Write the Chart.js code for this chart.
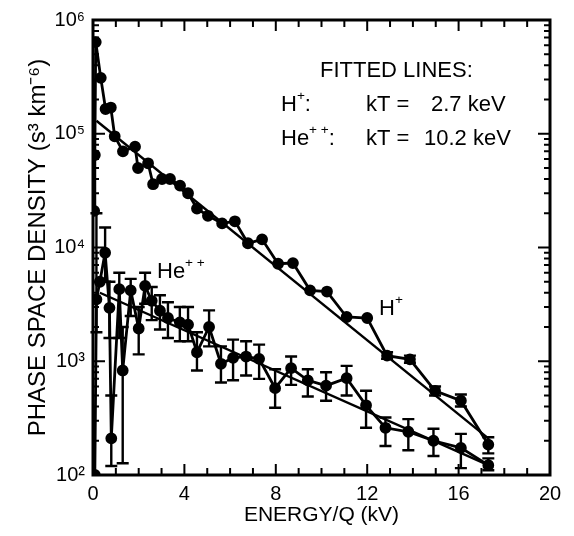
<!DOCTYPE html>
<html>
<head>
<meta charset="utf-8">
<script src="https://cdn.jsdelivr.net/npm/chart.js@4.4.1/dist/chart.umd.min.js"></script>
<style>
  html, body { margin: 0; background: #fff; }
  #wrap { width: 574px; height: 536px; }
</style>
</head>
<body>
<div id="wrap"><canvas id="chart" width="574" height="536"></canvas></div>
<script>
// --- data ---
// H+ measured points (energy/Q in kV, phase space density)
const hX = [0.05, 0.08, 0.12, 0.34, 0.55, 0.78, 0.95, 1.31, 1.84, 1.97, 2.41, 2.63, 3.02, 3.37, 3.81, 4.16, 4.55, 5.03, 5.65, 6.21, 6.78, 7.4, 8.1, 8.75, 9.5, 10.24, 11.1, 12.0, 12.87, 13.87, 14.97, 16.1, 17.3];
const hY = [2.1e4, 6.5e4, 6.4e5, 3.1e5, 1.65e5, 1.7e5, 9.5e4, 7.0e4, 7.7e4, 5.0e4, 5.5e4, 3.6e4, 4.0e4, 4.0e4, 3.5e4, 3.0e4, 2.2e4, 1.9e4, 1.63e4, 1.7e4, 1.09e4, 1.18e4, 7.2e3, 7.3e3, 4.2e3, 4.1e3, 2.45e3, 2.4e3, 1.12e3, 1.04e3, 5.5e2, 4.5e2, 1.85e2];
// H+ error bars (only the high energy channels show them)
const hBarX = [12.87, 13.87, 14.97, 16.1, 17.3];
const hBarLo = [1.05e3, 0.97e3, 5.0e2, 4.0e2, 1.55e2];
const hBarHi = [1.2e3, 1.12e3, 6.0e2, 5.1e2, 2.15e2];

// He++ measured points with error bars
const heX = [0.08, 0.15, 0.3, 0.53, 0.72, 0.8, 1.15, 1.3, 1.65, 2.0, 2.28, 2.57, 2.93, 3.28, 3.8, 4.16, 4.55, 5.08, 5.6, 6.13, 6.7, 7.27, 7.97, 8.67, 9.4, 10.2, 11.1, 11.95, 12.8, 13.8, 14.9, 16.1, 17.3];
const heY = [1.0e2, 3.5e3, 5.0e3, 9.0e3, 2.95e3, 2.1e2, 4.3e3, 8.3e2, 4.2e3, 1.94e3, 4.6e3, 3.4e3, 2.78e3, 2.4e3, 2.2e3, 2.1e3, 1.2e3, 2.0e3, 9.5e2, 1.07e3, 1.1e3, 1.05e3, 5.8e2, 8.7e2, 6.8e2, 6.1e2, 7.1e2, 4.1e2, 2.6e2, 2.4e2, 2.0e2, 1.73e2, 1.22e2];
const heLo = [null, 1.8e3, null, 5.0e3, 1.6e3, 1.2e2, 1.6e3, 1.27e2, 2.5e3, 1.15e3, 3.2e3, 2.3e3, 1.9e3, 1.6e3, 1.5e3, 1.5e3, 8.3e2, 1.35e3, 6.5e2, 6.8e2, 7.5e2, 7.0e2, 3.9e2, 6.2e2, 4.9e2, 4.5e2, 5.0e2, 2.6e2, 1.8e2, 1.65e2, 1.47e2, 1.15e2, 1.1e2];
const heHi = [null, 2.0e4, null, 1.5e4, 5.0e3, 5.0e2, 6.0e3, 2.0e3, 5.3e3, 3.0e3, 6.0e3, 4.5e3, 3.8e3, 3.3e3, 3.0e3, 3.0e3, 1.8e3, 2.8e3, 1.35e3, 1.55e3, 1.5e3, 1.4e3, 8.5e2, 1.1e3, 8.5e2, 8.0e2, 9.1e2, 5.5e2, 3.2e2, 3.1e2, 2.55e2, 2.3e2, 1.4e2];

// fitted lines (end points)
const fitHX = [0.15, 17.3];
const fitHY = [1.3e5, 2.1e2];
const fitHeX = [0.3, 17.3];
const fitHeY = [4.0e3, 1.22e2];

// axis ticks
const xTicks = [0, 4, 8, 12, 16, 20];
const yTicks = [1e2, 1e3, 1e4, 1e5, 1e6];

const FONT = "'Liberation Sans', Arial, Helvetica, sans-serif";
const SUP = { 2: '²', 3: '³', 4: '⁴', 5: '⁵', 6: '⁶' };

const pts = (xs, ys) => xs.map((x, i) => ({ x: x, y: ys[i] }));

// --- error bars ---
const errorBars = {
    id: 'errorBars',
    afterDatasetsDraw(chart) {
        const { ctx, scales: { x, y } } = chart;
        const draw = (xs, lo, hi, cap) => {
            ctx.save();
            ctx.strokeStyle = '#000';
            ctx.lineWidth = 2.4;
            xs.forEach((v, i) => {
                if (lo[i] == null) return;
                const px = x.getPixelForValue(v);
                const y1 = y.getPixelForValue(lo[i]);
                const y2 = y.getPixelForValue(hi[i]);
                ctx.beginPath();
                ctx.moveTo(px, y1); ctx.lineTo(px, y2);
                ctx.moveTo(px - cap, y1); ctx.lineTo(px + cap, y1);
                ctx.moveTo(px - cap, y2); ctx.lineTo(px + cap, y2);
                ctx.stroke();
            });
            ctx.restore();
        };
        draw(heX, heLo, heHi, 6);
        draw(hBarX, hBarLo, hBarHi, 6);
    }
};

// --- frame with inward ticks on all four sides ---
const frame = {
    id: 'frame',
    afterDraw(chart) {
        const { ctx, chartArea: a, scales: { x, y } } = chart;
        ctx.save();
        ctx.strokeStyle = '#000';
        ctx.lineWidth = 2;
        ctx.beginPath();
        for (let v = 1; v < 20; v++) {
            const px = x.getPixelForValue(v);
            const len = v % 4 === 0 ? 11 : 7;
            ctx.moveTo(px, a.bottom); ctx.lineTo(px, a.bottom - len);
            ctx.moveTo(px, a.top); ctx.lineTo(px, a.top + len);
        }
        for (let e = 2; e < 6; e++) {
            for (let m = 1; m < 10; m++) {
                const py = y.getPixelForValue(m * Math.pow(10, e));
                const len = m === 1 ? 12 : 6;
                ctx.moveTo(a.left, py); ctx.lineTo(a.left + len, py);
                ctx.moveTo(a.right, py); ctx.lineTo(a.right - len, py);
            }
        }
        ctx.stroke();
        ctx.lineWidth = 3;
        ctx.strokeRect(a.left, a.top, a.right - a.left, a.bottom - a.top);
        ctx.restore();
    }
};

// --- text labels (species names and fitted line temperatures) ---
function rich(ctx, x, y, parts, size) {
    let cx = x;
    parts.forEach(p => {
        const s = p.sup ? size * 0.62 : size;
        ctx.font = s + 'px ' + FONT;
        ctx.fillText(p.t, cx, p.sup ? y - size * 0.42 : y);
        cx += ctx.measureText(p.t).width;
    });
}
const labels = {
    id: 'labels',
    afterDraw(chart) {
        const ctx = chart.ctx;
        ctx.save();
        ctx.fillStyle = '#000';
        ctx.textBaseline = 'middle';
        ctx.textAlign = 'left';
        const fs = 22;
        rich(ctx, 320, 71, [{ t: 'FITTED LINES:' }], fs);
        rich(ctx, 281, 105, [{ t: 'H' }, { t: '+', sup: true }, { t: ':' }], fs);
        rich(ctx, 366, 105, [{ t: 'kT =' }], fs);
        rich(ctx, 431, 105, [{ t: '2.7 keV' }], fs);
        rich(ctx, 281, 139, [{ t: 'He' }, { t: '+ +', sup: true }, { t: ':' }], fs);
        rich(ctx, 366, 139, [{ t: 'kT =' }], fs);
        rich(ctx, 424, 139, [{ t: '10.2 keV' }], fs);
        rich(ctx, 157, 272, [{ t: 'He' }, { t: '+ +', sup: true }], fs);
        rich(ctx, 379, 309, [{ t: 'H' }, { t: '+', sup: true }], fs);
        ctx.restore();
    }
};

const line = (data, marker) => ({
    data: data,
    borderColor: '#000',
    backgroundColor: '#000',
    borderWidth: marker ? 2.8 : 2.4,
    pointRadius: marker ? 4.5 : 0,
    pointHoverRadius: 0,
    tension: 0
});

new Chart(document.getElementById('chart'), {
    type: 'line',
    data: {
        datasets: [
            line(pts(fitHX, fitHY), false),
            line(pts(fitHeX, fitHeY), false),
            line(pts(hX, hY), true),
            line(pts(heX, heY), true)
        ]
    },
    options: {
        responsive: false,
        animation: false,
        devicePixelRatio: 1,
        layout: { padding: { top: 18, right: 24, left: 0, bottom: 0 } },
        plugins: { legend: { display: false }, tooltip: { enabled: false } },
        scales: {
            x: {
                type: 'linear', min: 0, max: 20,
                afterBuildTicks: s => { s.ticks = xTicks.map(v => ({ value: v })); },
                afterFit: s => { s.height = 61; },
                grid: { display: false, drawTicks: false },
                border: { display: false },
                ticks: { color: '#000', font: { family: FONT, size: 20 }, padding: 7, maxRotation: 0 },
                title: { display: true, text: 'ENERGY/Q (kV)', color: '#000', font: { family: FONT, size: 21 }, padding: { top: 0, bottom: 8 } }
            },
            y: {
                type: 'logarithmic', min: 1e2, max: 1e6,
                afterBuildTicks: s => { s.ticks = yTicks.map(v => ({ value: v })); },
                afterFit: s => { s.width = 93; },
                grid: { display: false, drawTicks: false },
                border: { display: false },
                ticks: {
                    color: '#000', font: { family: FONT, size: 20 }, padding: 8,
                    callback: v => '10' + SUP[Math.round(Math.log10(v))]
                },
                title: { display: true, text: 'PHASE SPACE DENSITY (s³ km⁻⁶)', color: '#000', font: { family: FONT, size: 24 }, padding: { top: 24, bottom: 0 } }
            }
        }
    },
    plugins: [errorBars, frame, labels]
});
</script>
</body>
</html>
